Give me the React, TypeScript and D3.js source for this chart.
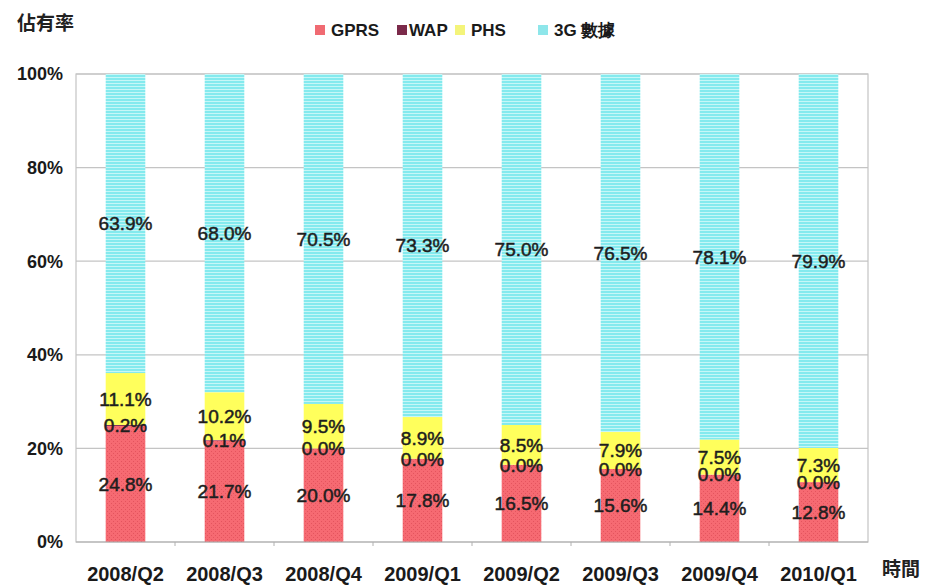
import React, { useEffect, useRef } from "react";
import * as d3 from "d3";

// quarters on the x axis
const categories = ["2008/Q2", "2008/Q3", "2008/Q4", "2009/Q1", "2009/Q2", "2009/Q3", "2009/Q4", "2010/Q1"];
const seriesNames = ["GPRS", "WAP", "PHS", "3G 數據"];
const gprs = [24.8, 21.7, 20.0, 17.8, 16.5, 15.6, 14.4, 12.8];
const wap = [0.2, 0.1, 0.0, 0.0, 0.0, 0.0, 0.0, 0.0];
const phs = [11.1, 10.2, 9.5, 8.9, 8.5, 7.9, 7.5, 7.3];
const g3 = [63.9, 68.0, 70.5, 73.3, 75.0, 76.5, 78.1, 79.9];
const yTicks = [0, 20, 40, 60, 80, 100];

const WIDTH = 933;
const HEIGHT = 585;
const LEFT = 76;
const RIGHT = 868;
const TOP = 74;
const BOTTOM = 542;
const FONT = "'Liberation Sans', Arial, sans-serif";
const CJK = "'Noto Sans CJK TC', 'Noto Sans CJK SC', sans-serif";
const GRID = "#c4c4c4";

const App = () => {
  const ref = useRef<SVGSVGElement | null>(null);

  useEffect(() => {
    const svg = d3.select(ref.current);
    svg.selectAll("*").remove();

    const values = [gprs, wap, phs, g3];
    const fills = ["url(#pat-gprs)", "#7b2a4a", "#ffff5c", "url(#pat-3g)"];
    const legendFills = ["#f06a72", "#7b2a4a", "#f4f47a", "#8ee6ea"];

    const table = categories.map((c, i) => {
      const row: any = { cat: c };
      seriesNames.forEach((s, k) => (row[s] = values[k][i]));
      return row;
    });
    const stacked = d3.stack().keys(seriesNames)(table);

    const x = d3.scaleBand().domain(categories).range([LEFT, RIGHT]).paddingInner(0.6).paddingOuter(0.3);
    const y = d3.scaleLinear().domain([0, 100]).range([BOTTOM, TOP]);

    // patterns
    const defs = svg.append("defs");
    const p3g = defs.append("pattern").attr("id", "pat-3g").attr("patternUnits", "userSpaceOnUse")
      .attr("width", 6).attr("height", 3);
    p3g.append("rect").attr("width", 6).attr("height", 3).attr("fill", "#84eaee");
    p3g.append("rect").attr("y", 2).attr("width", 6).attr("height", 1).attr("fill", "#c6f7f7");

    const pg = defs.append("pattern").attr("id", "pat-gprs").attr("patternUnits", "userSpaceOnUse")
      .attr("width", 4).attr("height", 4);
    pg.append("rect").attr("width", 4).attr("height", 4).attr("fill", "#f66a72");
    pg.append("rect").attr("x", 1).attr("y", 1).attr("width", 1).attr("height", 1).attr("fill", "#e4545e");
    pg.append("rect").attr("x", 3).attr("y", 3).attr("width", 1).attr("height", 1).attr("fill", "#e4545e");

    // grid + frame
    svg.append("g").selectAll("line").data(yTicks.filter(t => t > 0)).join("line")
      .attr("x1", LEFT).attr("x2", RIGHT)
      .attr("y1", d => y(d)).attr("y2", d => y(d))
      .attr("stroke", GRID).attr("stroke-width", 1.2);
    svg.append("rect").attr("x", LEFT).attr("y", TOP).attr("width", RIGHT - LEFT).attr("height", BOTTOM - TOP)
      .attr("fill", "none").attr("stroke", GRID).attr("stroke-width", 1.2);

    // bars
    svg.append("g").selectAll("g").data(stacked).join("g")
      .attr("fill", (d, i) => fills[i])
      .selectAll("rect").data(d => d).join("rect")
      .attr("x", d => x(d.data.cat as string)!)
      .attr("width", x.bandwidth())
      .attr("y", d => y(d[1]))
      .attr("height", d => y(d[0]) - y(d[1]));

    // x axis
    const step = x.step();
    svg.append("line").attr("x1", LEFT).attr("x2", RIGHT).attr("y1", BOTTOM).attr("y2", BOTTOM)
      .attr("stroke", "#b0b0b0").attr("stroke-width", 1.2);
    svg.append("g").selectAll("line").data(d3.range(1, categories.length)).join("line")
      .attr("x1", d => LEFT + d * step).attr("x2", d => LEFT + d * step)
      .attr("y1", BOTTOM).attr("y2", BOTTOM + 4)
      .attr("stroke", "#b0b0b0");
    svg.append("g").selectAll("text").data(categories).join("text")
      .attr("x", d => x(d)! + x.bandwidth() / 2)
      .attr("y", 581)
      .attr("text-anchor", "middle")
      .style("font", `bold 20px ${FONT}`)
      .attr("fill", "#1a1a1a")
      .text(d => d);

    // y axis labels
    svg.append("g").selectAll("text").data(yTicks).join("text")
      .attr("x", 63)
      .attr("y", d => y(d))
      .attr("dy", "0.36em")
      .attr("text-anchor", "end")
      .style("font", `bold 18px ${FONT}`)
      .attr("fill", "#1a1a1a")
      .text(d => `${d}%`);

    // value labels at segment centres
    svg.append("g").selectAll("g").data(stacked).join("g")
      .selectAll("text").data(d => d).join("text")
      .attr("x", d => x(d.data.cat as string)! + x.bandwidth() / 2)
      .attr("y", d => y((d[0] + d[1]) / 2))
      .attr("dy", "0.36em")
      .attr("text-anchor", "middle")
      .style("font", `19px ${FONT}`)
      .attr("fill", "#1e1e1e")
      .attr("stroke", "#1e1e1e")
      .attr("stroke-width", 0.5)
      .text(d => `${(d[1] - d[0]).toFixed(1)}%`);

    // axis titles
    svg.append("text").attr("x", 17).attr("y", 30)
      .style("font", `bold 19px ${CJK}`).attr("fill", "#222").text("佔有率");
    svg.append("text").attr("x", 882).attr("y", 576)
      .style("font", `bold 19px ${CJK}`).attr("fill", "#222").text("時間");

    // legend
    const legendX = [315, 397, 455, 538];
    const lg = svg.append("g").selectAll("g").data(seriesNames).join("g")
      .attr("transform", (d, i) => `translate(${legendX[i]},30)`);
    lg.append("rect").attr("x", 0).attr("y", -5).attr("width", 10).attr("height", 10)
      .attr("fill", (d, i) => legendFills[i]);
    lg.append("text").attr("x", (d, i) => (i === 1 ? 12 : 16)).attr("dy", "0.36em")
      .style("font", `bold 17px ${FONT}`).attr("fill", "#1a1a1a")
      .text(d => d);
  }, []);

  return (
    <div style={{ position: "absolute", left: 0, top: 0, width: WIDTH, height: HEIGHT }}>
      <svg ref={ref} width={WIDTH} height={HEIGHT} style={{ display: "block", background: "#fff" }} />
    </div>
  );
};

export default App;
